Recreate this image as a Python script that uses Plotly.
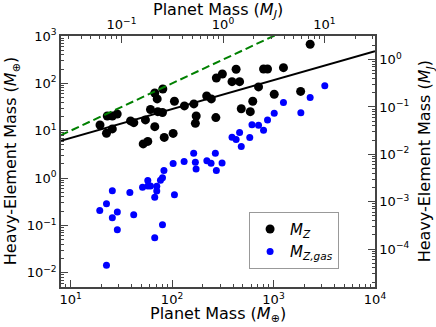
import numpy as np
import plotly.graph_objects as go

# ---------------- data (Earth masses) ----------------
mz_mass = [19.5, 22.6, 23.0, 25.8, 28.8, 25.8, 39.0, 42.0, 54.7, 52.0, 57.7,
           61.3, 67.6, 67.6, 71.4, 81.1, 72.3, 80.5, 83.8, 102.5, 105.6, 132.4,
           164.1, 173.0, 169.8, 219.4, 243.9, 270.2, 273.3, 313.2, 390.0, 427.9,
           463.1, 481.1, 590.2, 624.3, 711.9, 797.5, 873.0, 1016, 1253, 1850, 2296]
mz_val = [13.2, 8.85, 20.5, 20.5, 22.6, 10.9, 16.1, 14.8, 16.9, 5.27, 5.95,
          28.1, 12.2, 62.7, 46.9, 76.2, 25.3, 24.3, 7.22, 8.77, 41.9, 33.4,
          36.8, 20.5, 14.3, 54.2, 46.9, 18.9, 130.0, 157.9, 108.6, 198.3,
          108.6, 29.1, 25.3, 41.9, 84.0, 201.3, 201.3, 58.9, 214.4, 67.5, 668]

gas_mass = [19.4, 22.6, 22.6, 25.8, 25.8, 28.9, 28.9, 38.4, 41.9, 51.2, 57.7,
            57.7, 61.3, 67.5, 67.5, 70.7, 70.7, 76.9, 80.5, 83.2, 80.5, 102.5,
            105.6, 131.5, 163.4, 169.8, 172.6, 220.4, 242.3, 267.2, 273.3, 311.1,
            390.0, 427.9, 463.1, 481.1, 583.4, 613.4, 711.9, 797.5, 873.0, 1016,
            1253, 1859, 2296, 3201]
gas_val = [0.206, 0.286, 0.0144, 0.537, 0.145, 0.192, 0.0807, 0.494, 0.169,
           0.643, 0.885, 0.684, 0.684, 0.392, 0.0547, 0.668, 0.532, 0.903, 1.01,
           1.44, 0.104, 2.02, 0.442, 2.23, 3.35, 2.16, 1.55, 2.31, 2.06, 3.35,
           1.44, 2.09, 7.29, 6.49, 9.21, 4.62, 7.22, 13.4, 13.1, 10.25, 16.9,
           23.4, 39.2, 24.1, 50.4, 89.4]

# tick decades
x_decades = [1, 2, 3, 4]
y_decades = [-2, -1, 0, 1, 2, 3]
x2_decades = [-1, 0, 1]
y2_decades = [-4, -3, -2, -1, 0]

# reference relations
fit_coeff_mj = 57.9     # M_Z = 57.9 M_E * (M / M_J)^0.61
fit_exp = 0.61
mj_in_me = 317.8
line_mass = [8.0, 1.0e4]

x_range = [np.log10(8.05), 4.0]
y_range = [-2.3, 3.0]
shift = np.log10(mj_in_me)

fit_vals = [fit_coeff_mj * (m / mj_in_me) ** fit_exp for m in line_mass]
one_to_one = list(line_mass)

FONT = "DejaVu Sans"
AX = "#444444"


def lbl(d):
    s = str(d).replace("-", "\u2212")
    return "10<sup>%s</sup>" % s


def minors(decs):
    lo, hi = min(decs) - 1, max(decs) + 1
    return [k * 10.0 ** e for e in range(lo, hi + 1) for k in range(2, 10)]


def axis(decs, rng):
    return dict(type="log", range=rng, tickmode="array",
                tickvals=[10.0 ** d for d in decs],
                ticktext=[lbl(d) for d in decs],
                showgrid=False, zeroline=False, showline=True,
                linecolor=AX, linewidth=1.5,
                ticks="inside", ticklen=7, tickwidth=1, tickcolor=AX,
                tickfont=dict(family=FONT, size=13, color="black"),
                minor=dict(tickmode="array", tickvals=minors(decs),
                           ticks="inside", ticklen=3.5, tickwidth=1,
                           tickcolor=AX, showgrid=False),
                automargin=False)


fig = go.Figure()
fig.add_trace(go.Scatter(x=mz_mass, y=mz_val, mode="markers",
                         marker=dict(color="black", size=9),
                         name="<i>M<sub>Z</sub></i>"))
fig.add_trace(go.Scatter(x=gas_mass, y=gas_val, mode="markers",
                         marker=dict(color="blue", size=7),
                         name="<i>M<sub>Z,gas</sub></i>"))
fig.add_trace(go.Scatter(x=line_mass, y=fit_vals, mode="lines",
                         line=dict(color="black", width=2), showlegend=False))
fig.add_trace(go.Scatter(x=line_mass, y=one_to_one, mode="lines",
                         line=dict(color="green", width=2, dash="8px,4px"),
                         showlegend=False))
# dummy trace to activate secondary axes
fig.add_trace(go.Scatter(x=[None], y=[None], xaxis="x2", yaxis="y2",
                         showlegend=False, hoverinfo="skip"))

xa = axis(x_decades, x_range)
xa2 = axis(x2_decades, [x_range[0] - shift, x_range[1] - shift])
xa2.update(overlaying="x", side="top", anchor="y")
ya = axis(y_decades, y_range)
ya2 = axis(y2_decades, [y_range[0] - shift, y_range[1] - shift])
ya2.update(overlaying="y", side="right", anchor="x")

TF = dict(family=FONT, size=16, color="black")
annots = [
    dict(text="Planet Mass (<i>M</i><sub>⊕</sub>)", x=0.5, y=-0.11,
         xanchor="center", yanchor="middle"),
    dict(text="Planet Mass (<i>M<sub>J</sub></i>)", x=0.5, y=1.10,
         xanchor="center", yanchor="middle"),
    dict(text="Heavy-Element Mass (<i>M</i><sub>⊕</sub>)", x=-0.157, y=0.5,
         xanchor="center", yanchor="middle", textangle=-90),
    dict(text="Heavy-Element Mass (<i>M<sub>J</sub></i>)", x=1.162, y=0.5,
         xanchor="center", yanchor="middle", textangle=-90),
]
for a in annots:
    a.update(xref="paper", yref="paper", showarrow=False, font=TF)

fig.update_layout(
    width=436, height=327,
    margin=dict(l=61, r=61, t=36, b=40),
    paper_bgcolor="white", plot_bgcolor="white",
    font=dict(family=FONT, color="black"),
    xaxis=xa, xaxis2=xa2, yaxis=ya, yaxis2=ya2,
    annotations=annots,
    legend=dict(x=0.599, y=0.30, xanchor="left", yanchor="top",
                bgcolor="white", bordercolor="#999999", borderwidth=1,
                font=dict(family=FONT, size=15)),
    showlegend=True,
)

fig.write_html("out.html",
               config={"displayModeBar": False},
               post_script="document.body.style.margin='0';"
                           "document.body.style.overflow='hidden';")
